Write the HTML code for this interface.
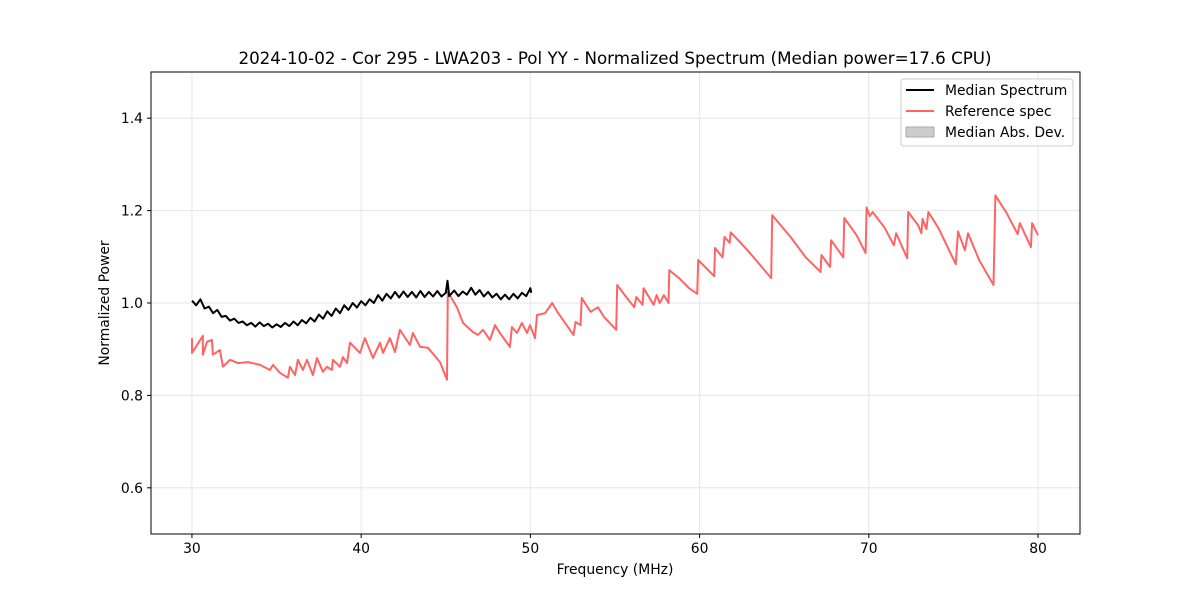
<!DOCTYPE html>
<html><head><meta charset="utf-8">
<style>
body{margin:0;background:#fff;}
svg{display:block;font-family:"DejaVu Sans","Liberation Sans",sans-serif;}
</style></head>
<body>
<svg id="chart" width="1200" height="600">
<rect width="1200" height="600" fill="#fff"/>
<text x="615" y="64" text-anchor="middle" font-size="16.7">2024-10-02 - Cor 295 - LWA203 - Pol YY - Normalized Spectrum (Median power=17.6 CPU)</text>
<g id="grid"></g>
<g id="series"></g>
<rect x="151" y="72" width="929" height="462" fill="none" stroke="#000" stroke-width="1"/>
<g id="ticks"></g>
<text x="615" y="574" text-anchor="middle" font-size="13.9">Frequency (MHz)</text>
<text transform="translate(109,303) rotate(-90)" text-anchor="middle" font-size="13.9">Normalized Power</text>
<g>
<rect x="901" y="79" width="172" height="67" rx="3" fill="#fff" fill-opacity="0.8" stroke="#ccc"/>
<g><line x1="906" y1="90" x2="934" y2="90" stroke="#000" stroke-width="2"/><text x="945" y="95" font-size="13.9">Median Spectrum</text></g>
<g><line x1="906" y1="111" x2="934" y2="111" stroke="#ff6464" stroke-width="2"/><text x="945" y="116" font-size="13.9">Reference spec</text></g>
<g><rect x="906" y="127" width="28" height="10" fill="#ccc" stroke="#aaa"/><text x="945" y="137" font-size="13.9">Median Abs. Dev.</text></g>
</g>
</svg>
<script>
const xTicks=[30,40,50,60,70,80];
const yTicks=[0.6,0.8,1.0,1.2,1.4];
const yTickLabels=["0.6","0.8","1.0","1.2","1.4"];
const refFreq=[30.00,30.00,30.65,30.65,30.89,31.18,31.24,31.65,31.83,32.25,32.72,33.31,34.02,34.61,34.79,35.20,35.67,35.79,36.09,36.26,36.56,36.80,37.15,37.39,37.74,37.98,38.27,38.33,38.75,38.92,39.16,39.34,39.93,40.22,40.70,41.11,41.29,41.70,42.00,42.29,42.88,43.06,43.48,43.95,44.66,45.07,45.12,45.66,46.02,46.61,46.90,47.20,47.61,47.91,48.20,48.79,48.91,49.21,49.50,49.80,49.98,50.27,50.39,50.87,51.29,51.59,52.55,52.67,52.97,53.03,53.56,53.99,54.35,55.07,55.13,55.66,56.14,56.26,56.63,56.69,57.29,57.46,57.64,57.89,58.16,58.21,58.78,59.38,59.86,59.92,60.86,60.91,61.36,61.47,61.78,61.84,62.38,62.98,64.23,64.29,65.37,66.27,67.15,67.20,67.71,67.77,68.49,68.55,69.27,69.81,69.87,70.05,70.23,70.95,71.48,71.61,72.27,72.33,72.92,73.11,73.17,73.40,73.52,74.12,75.14,75.27,75.68,75.86,76.52,77.37,77.48,78.14,78.80,78.92,79.58,79.65,79.94,80.00];
const refPower=[0.924,0.892,0.929,0.888,0.916,0.920,0.888,0.898,0.862,0.877,0.870,0.872,0.866,0.855,0.866,0.849,0.838,0.862,0.844,0.877,0.855,0.877,0.844,0.881,0.851,0.862,0.855,0.877,0.862,0.883,0.870,0.914,0.892,0.924,0.881,0.914,0.892,0.924,0.894,0.942,0.909,0.935,0.905,0.903,0.872,0.834,1.024,0.991,0.957,0.937,0.931,0.942,0.920,0.952,0.935,0.905,0.948,0.935,0.957,0.935,0.952,0.924,0.974,0.978,1.000,0.981,0.931,0.959,0.952,1.011,0.981,0.991,0.970,0.942,1.039,1.013,0.991,1.013,0.996,1.032,0.996,1.017,1.000,1.017,1.000,1.071,1.054,1.032,1.020,1.093,1.058,1.119,1.099,1.143,1.130,1.153,1.132,1.108,1.054,1.190,1.143,1.099,1.067,1.104,1.078,1.136,1.099,1.184,1.147,1.108,1.207,1.188,1.197,1.162,1.125,1.151,1.097,1.197,1.168,1.151,1.182,1.160,1.197,1.162,1.084,1.155,1.114,1.151,1.093,1.039,1.233,1.195,1.149,1.173,1.121,1.173,1.151,1.147];
const medFreq=[30.00,30.25,30.5,30.75,31,31.25,31.5,31.75,32,32.25,32.5,32.75,33,33.25,33.5,33.75,34,34.25,34.5,34.75,35,35.25,35.5,35.75,36,36.25,36.5,36.75,37,37.25,37.5,37.75,38,38.25,38.5,38.75,39,39.25,39.5,39.75,40,40.25,40.5,40.75,41,41.25,41.5,41.75,42,42.25,42.5,42.75,43,43.25,43.5,43.75,44,44.25,44.5,44.75,45,45.1,45.2,45.5,45.75,46,46.25,46.5,46.75,47,47.25,47.5,47.75,48,48.25,48.5,48.75,49,49.25,49.5,49.75,50,50.05];
const medPower=[1.005,0.995,1.008,0.988,0.992,0.978,0.985,0.970,0.972,0.962,0.966,0.957,0.960,0.952,0.957,0.949,0.958,0.950,0.955,0.947,0.954,0.948,0.957,0.950,0.960,0.952,0.963,0.956,0.968,0.960,0.975,0.966,0.982,0.972,0.988,0.978,0.995,0.985,1.000,0.990,1.004,0.995,1.008,1.000,1.017,1.005,1.020,1.010,1.024,1.012,1.025,1.013,1.024,1.012,1.026,1.013,1.024,1.014,1.026,1.014,1.022,1.048,1.015,1.027,1.015,1.025,1.018,1.033,1.018,1.028,1.014,1.024,1.012,1.020,1.008,1.018,1.008,1.020,1.010,1.022,1.015,1.032,1.022];

const NS="http://www.w3.org/2000/svg";
const X0=151,X1=1080,Y0=72,Y1=534,XMIN=27.58,XMAX=82.48,YMIN=0.5,YMAX=1.5;
function sx(v){return X0+(v-XMIN)/(XMAX-XMIN)*(X1-X0);}
function sy(v){return Y1-(v-YMIN)/(YMAX-YMIN)*(Y1-Y0);}
function mk(tag,attrs,parent){const e=document.createElementNS(NS,tag);for(const k in attrs)e.setAttribute(k,attrs[k]);parent.appendChild(e);return e;}
const grid=document.getElementById('grid'),ticks=document.getElementById('ticks'),series=document.getElementById('series');
xTicks.forEach(t=>{
  const x=sx(t);
  const g=mk('line',{x1:x,x2:x,y1:Y0,y2:Y1,stroke:'#e6e6e6','stroke-width':1},grid);
  
  
  const tk=mk('line',{x1:x,x2:x,y1:Y1,y2:Y1+4,stroke:'#000'},ticks);
  
  
  const tl=mk('text',{x:x,y:Y1+19,'text-anchor':'middle','font-size':13.9},ticks);
  tl.textContent=String(t);
  
  
});
yTicks.forEach((t,i)=>{
  const y=sy(t);
  const g=mk('line',{x1:X0,x2:X1,y1:y,y2:y,stroke:'#e6e6e6','stroke-width':1},grid);
  
  
  const tk=mk('line',{x1:X0-4,x2:X0,y1:y,y2:y,stroke:'#000'},ticks);
  
  
  const tl=mk('text',{x:X0-8,y:y+5,'text-anchor':'end','font-size':13.9},ticks);
  tl.textContent=yTickLabels[i];
  
  
});
function path(fx,py){return fx.map((f,i)=>(i?'L':'M')+sx(f).toFixed(1)+','+sy(py[i]).toFixed(1)).join('');}
const ref=mk('path',{d:path(refFreq,refPower),fill:'none',stroke:'#ff6464','stroke-width':2,'stroke-linejoin':'round'},series);


const med=mk('path',{d:path(medFreq,medPower),fill:'none',stroke:'#000','stroke-width':2,'stroke-linejoin':'round'},series);


</script>
</body></html>
